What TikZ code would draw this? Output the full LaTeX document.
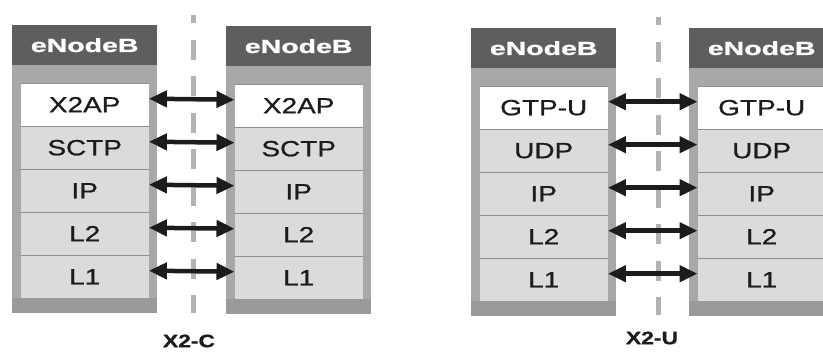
\documentclass[tikz,border=0pt]{standalone}
\usepackage{fontspec}
\usepackage{graphicx}
\usetikzlibrary{arrows.meta}
\newfontfamily\layerfont[FakeStretch=1.27,FakeBold=0.8]{Liberation Sans}
\newfontfamily\headfont[BoldFeatures={FakeBold=0.8}]{Liberation Sans}
\definecolor{hdrgray}{HTML}{5E5E5E}
\definecolor{framegray}{HTML}{A8A8A8}
\definecolor{framebot}{HTML}{9A9A9A}
\definecolor{layergray}{HTML}{DBDBDB}
\definecolor{sepgray}{HTML}{8E8E8E}
\definecolor{dashgray}{HTML}{B3B3B3}
\definecolor{inkblack}{HTML}{1C1C1C}
\newcommand\hdrtext[1]{\scalebox{1.5}[1]{\headfont\bfseries\fontsize{19}{19}\selectfont #1}}
\newcommand\lbltext[1]{\scalebox{1.27}[1]{\headfont\bfseries\fontsize{18}{18}\selectfont #1}}
\tikzset{
  hdr/.style={fill=hdrgray, minimum width=145pt, minimum height=40pt, inner sep=0pt,
    anchor=north west, text=white},
  layer/.style={minimum width=128pt, minimum height=43pt, inner sep=0pt,
    anchor=north west, text=inkblack, font=\layerfont\fontsize{22}{22}\selectfont},
  sepline/.style={draw=sepgray, line width=0.9pt},
  biarrow/.style={draw=inkblack, line width=4.5pt,
    {Triangle[length=18pt,width=16pt]}-{Triangle[length=18pt,width=16pt]}},
  dashline/.style={draw=dashgray, line width=5pt, dash pattern=on 20pt off 16.5pt, dash phase=12pt},
  lbl/.style={text=inkblack, inner sep=0pt}
}
\newcommand\enbstack[4]{%
  \fill[framegray] (#2,#3) rectangle ++(145,288);
  \fill[framebot] (#2,#3+273) rectangle (#2+145,#3+288);
  \node[hdr] (#1h) at (#2,#3) {\hdrtext{eNodeB}};
  \foreach \t/\f [count=\i] in {#4} {
    \node[layer, fill=\f] (#1\i) at (#2+8.5,#3+58+43*\i-43) {\t};
    \draw[sepline] (#1\i.north west) -- (#1\i.north east);
  }
}
\begin{document}
\begin{tikzpicture}[x=1pt,y=-1pt]
  \useasboundingbox (0,0) rectangle (823,354);
  \clip (0,0) rectangle (823,354);
  % stacks
  \enbstack{A}{12}{25}{X2AP/white,SCTP/layergray,IP/layergray,L2/layergray,L1/layergray}
  \enbstack{B}{226}{26}{X2AP/white,SCTP/layergray,IP/layergray,L2/layergray,L1/layergray}
  \enbstack{C}{471}{28}{GTP-U/white,UDP/layergray,IP/layergray,L2/layergray,L1/layergray}
  \enbstack{D}{689}{28}{GTP-U/white,UDP/layergray,IP/layergray,L2/layergray,L1/layergray}
  % dashed separators
  \coordinate (d1t) at (193,15);
  \coordinate (d1b) at (193,313);
  \coordinate (d2t) at (658,17);
  \coordinate (d2b) at (658,315);
  \draw[dashline] (d1t) -- (d1b);
  \draw[dashline] (d2t) -- (d2b);
  % arrows
  \foreach \i in {1,...,5} {
    \draw[biarrow] ([yshift=6pt]A\i.east) -- ([yshift=6pt]B\i.west);
    \draw[biarrow] ([yshift=6pt]C\i.east) -- ([yshift=6pt]D\i.west);
  }
  % labels
  \node[lbl] (x2c) at (189,341) {\lbltext{X2-C}};
  \node[lbl] (x2u) at (652,338) {\lbltext{X2-U}};
\end{tikzpicture}
\end{document}
